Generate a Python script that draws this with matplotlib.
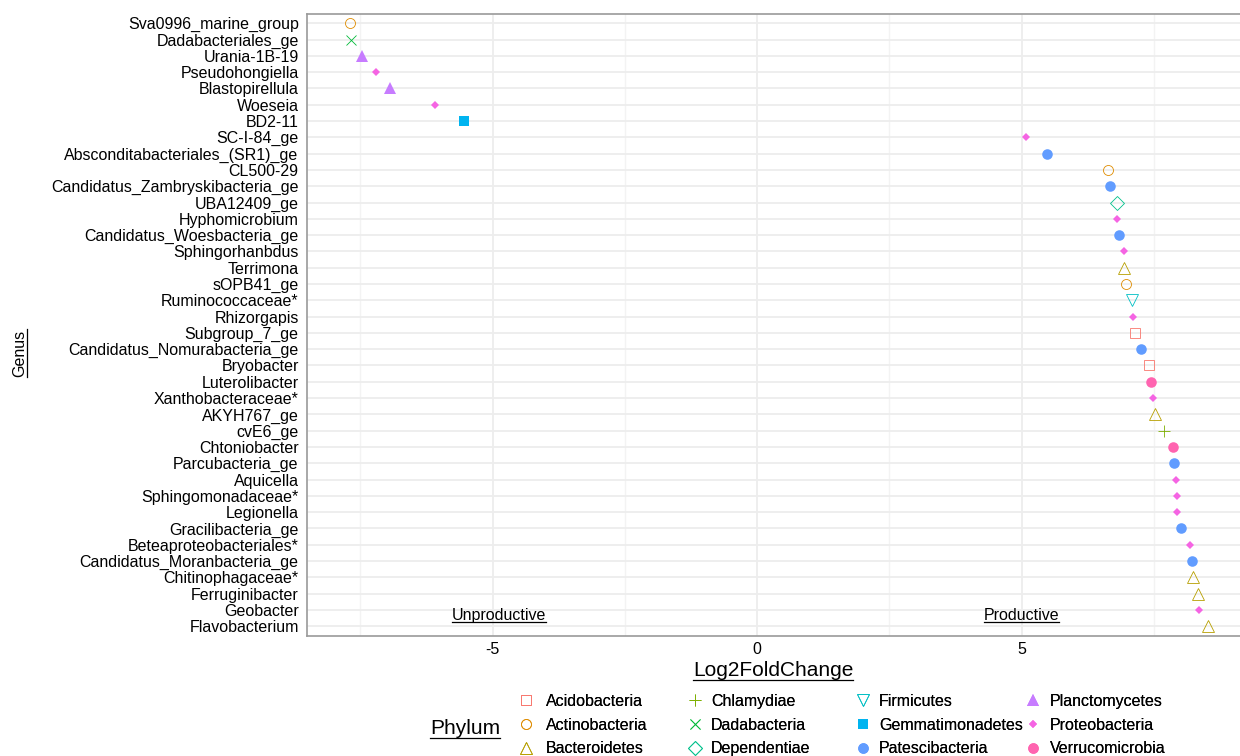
import numpy as np
import matplotlib
matplotlib.use('Agg')
import matplotlib.pyplot as plt
from matplotlib.lines import Line2D

plt.rcParams['font.family'] = ['Liberation Sans', 'DejaVu Sans']

# genera, top to bottom as in the chart
genera = ['Sva0996_marine_group', 'Dadabacteriales_ge', 'Urania-1B-19', 'Pseudohongiella',
          'Blastopirellula', 'Woeseia', 'BD2-11', 'SC-I-84_ge', 'Absconditabacteriales_(SR1)_ge',
          'CL500-29', 'Candidatus_Zambryskibacteria_ge', 'UBA12409_ge', 'Hyphomicrobium',
          'Candidatus_Woesbacteria_ge', 'Sphingorhanbdus', 'Terrimona', 'sOPB41_ge',
          'Ruminococcaceae*', 'Rhizorgapis', 'Subgroup_7_ge', 'Candidatus_Nomurabacteria_ge',
          'Bryobacter', 'Luterolibacter', 'Xanthobacteraceae*', 'AKYH767_ge', 'cvE6_ge',
          'Chtoniobacter', 'Parcubacteria_ge', 'Aquicella', 'Sphingomonadaceae*', 'Legionella',
          'Gracilibacteria_ge', 'Beteaproteobacteriales*', 'Candidatus_Moranbacteria_ge',
          'Chitinophagaceae*', 'Ferruginibacter', 'Geobacter', 'Flavobacterium']

log2fc = [-7.70, -7.67, -7.47, -7.21, -6.94, -6.09, -5.55, 5.08, 5.48,
          6.63, 6.68, 6.81, 6.81, 6.84, 6.93, 6.94, 6.98,
          7.08, 7.11, 7.14, 7.26, 7.41, 7.45, 7.49, 7.52, 7.70,
          7.87, 7.88, 7.92, 7.93, 7.94, 8.02, 8.18, 8.22,
          8.25, 8.34, 8.36, 8.53]

genus_phylum = ['Actinobacteria', 'Dadabacteria', 'Planctomycetes', 'Proteobacteria',
                'Planctomycetes', 'Proteobacteria', 'Gemmatimonadetes', 'Proteobacteria', 'Patescibacteria',
                'Actinobacteria', 'Patescibacteria', 'Dependentiae', 'Proteobacteria',
                'Patescibacteria', 'Proteobacteria', 'Bacteroidetes', 'Actinobacteria',
                'Firmicutes', 'Proteobacteria', 'Acidobacteria', 'Patescibacteria',
                'Acidobacteria', 'Verrucomicrobia', 'Proteobacteria', 'Bacteroidetes', 'Chlamydiae',
                'Verrucomicrobia', 'Patescibacteria', 'Proteobacteria', 'Proteobacteria', 'Proteobacteria',
                'Patescibacteria', 'Proteobacteria', 'Patescibacteria',
                'Bacteroidetes', 'Bacteroidetes', 'Proteobacteria', 'Bacteroidetes']

phyla = ['Acidobacteria', 'Actinobacteria', 'Bacteroidetes', 'Chlamydiae', 'Dadabacteria',
         'Dependentiae', 'Firmicutes', 'Gemmatimonadetes', 'Patescibacteria', 'Planctomycetes',
         'Proteobacteria', 'Verrucomicrobia']
colors = ['#F8766D', '#DE8C00', '#B79F00', '#7CAE00', '#00BA38', '#00C08B',
          '#00BFC4', '#00B4F0', '#619CFF', '#C77CFF', '#F564E3', '#FF64B0']
# marker, size, filled
styles = [('s', 7.0, False), ('o', 7.2, False), ('^', 8.6, False), ('+', 8.6, False),
          ('x', 7.2, False), ('D', 7.1, False), ('v', 8.6, False), ('s', 6.5, True),
          ('o', 7.6, True), ('^', 8.0, True), ('D', 4.4, True), ('o', 7.6, True)]

W, H = 1240, 756
fig = plt.figure(figsize=(W / 100, H / 100), dpi=100)
ax = fig.add_axes([307 / W, 1 - 636 / H, (W - 307) / W, (636 - 14) / H])

n = len(genera)
ypos = np.arange(n)[::-1]
x = np.array(log2fc)
ph = np.array(genus_phylum)

handles = []
for p, c, (m, ms, filled) in zip(phyla, colors, styles):
    sel = ph == p
    kw = dict(marker=m, markersize=ms, linestyle='none', color=c,
              markeredgewidth=0.6 if not filled else 0.0,
              markerfacecolor=c if filled else 'none', markeredgecolor=c)
    ax.plot(x[sel], ypos[sel], **kw)
    handles.append(Line2D([], [], **kw))

ax.set_xlim(-8.51, 9.13)
ax.set_ylim(-0.6, n - 1 + 0.57)
ax.set_yticks(ypos)
ax.set_yticklabels(genera, fontsize=11.5)
ax.set_xticks([-5, 0, 5])
ax.set_xticklabels(['-5', '0', '5'], fontsize=11.5)
ax.set_xticks([-7.5, -2.5, 2.5, 7.5], minor=True)
ax.tick_params(which='both', length=0)
ax.tick_params(axis='y', pad=6)
ax.tick_params(axis='x', pad=4)
ax.grid(which='major', color='#EDEDED', lw=1.3)
ax.grid(which='minor', axis='x', color='#F3F3F3', lw=1.0)
ax.set_axisbelow(True)
for s in ['top', 'left', 'bottom']:
    ax.spines[s].set_color('#9A9A9A')
    ax.spines[s].set_linewidth(1.2)
ax.spines['right'].set_visible(False)

t_unp = ax.text(-4.88, 0.63, 'Unproductive', ha='center', va='center', fontsize=11.5)
t_pro = ax.text(5, 0.63, 'Productive', ha='center', va='center', fontsize=11.5)

t_x = fig.text(773 / W, 1 - 671 / H, 'Log2FoldChange', ha='center', va='center', fontsize=15)
t_y = fig.text(20 / W, 1 - 353 / H, 'Genus', ha='center', va='center', rotation=90, fontsize=11.5)
t_ph = fig.text(465 / W, 1 - 729 / H, 'Phylum', ha='center', va='center', fontsize=15)

# legend: four columns of three
col_x = [526, 695, 863, 1033]
pads = [0.75, 0.5, 0.5, 0.55]
for i in range(4):
    leg = fig.legend(handles[3 * i:3 * i + 3], phyla[3 * i:3 * i + 3],
                     loc='upper left', bbox_to_anchor=((col_x[i] - 8) / W, 1 - 694 / H),
                     frameon=False, fontsize=11.5, handlelength=1.0, handletextpad=pads[i],
                     labelspacing=0.54, borderpad=0, borderaxespad=0)
    fig.add_artist(leg)

# underlines
fig.canvas.draw()
r = fig.canvas.get_renderer()
inv = fig.transFigure.inverted()
for t in [t_unp, t_pro, t_x, t_ph]:
    bb = t.get_window_extent(r)
    (x0, y0), (x1, _) = inv.transform([(bb.x0, bb.y0 + 1), (bb.x1, bb.y0 + 1)])
    fig.add_artist(Line2D([x0, x1], [y0, y0], transform=fig.transFigure, color='black', lw=0.9))
bb = t_y.get_window_extent(r)
(x0, y0), (_, y1) = inv.transform([(bb.x1 - 1, bb.y0), (bb.x1 - 1, bb.y1)])
fig.add_artist(Line2D([x0, x0], [y0, y1], transform=fig.transFigure, color='black', lw=0.9))

fig.savefig('out.png', dpi=100, facecolor='white')
